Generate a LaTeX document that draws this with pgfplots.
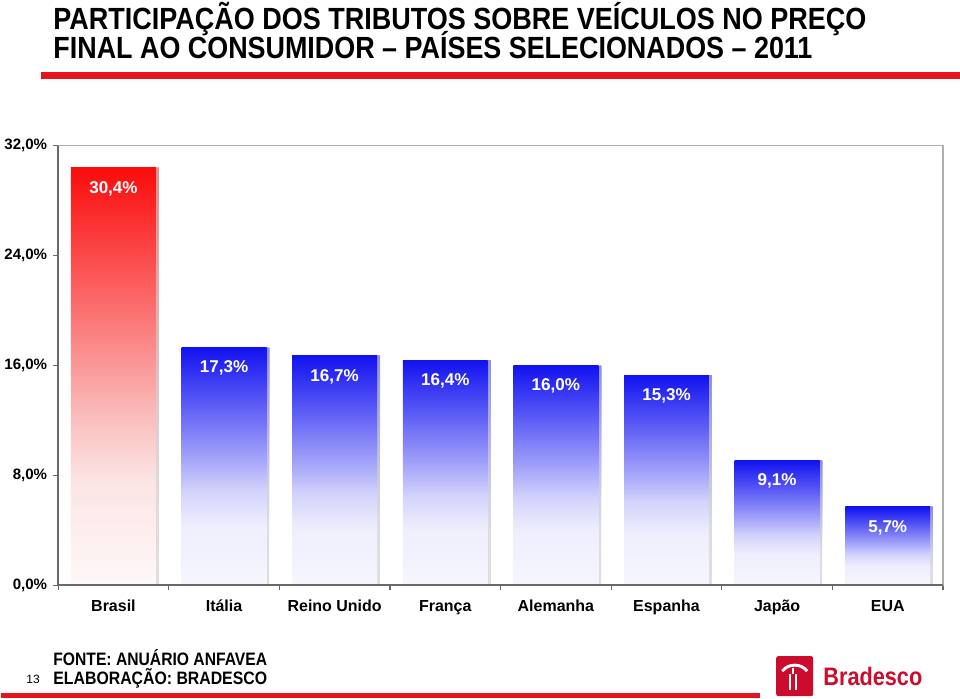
\documentclass[border=0pt]{standalone}
\usepackage{pgfplots}
\pgfplotsset{compat=1.18}
\usepackage{fontspec}
\setmainfont{Liberation Sans}
\usetikzlibrary{shadows}
\definecolor{bred}{RGB}{230,20,30}
\definecolor{logored}{RGB}{204,12,45}
\definecolor{axdark}{RGB}{105,105,105}
\definecolor{axlight}{RGB}{175,175,175}
\definecolor{ra}{RGB}{254,248,248}
\definecolor{rb}{RGB}{252,228,228}
\definecolor{rc}{RGB}{250,190,190}
\definecolor{rd}{RGB}{250,160,160}
\definecolor{re}{RGB}{252,85,85}
\definecolor{rf}{RGB}{250,12,12}
\definecolor{ba}{RGB}{246,246,255}
\definecolor{bb}{RGB}{238,238,253}
\definecolor{bc}{RGB}{210,210,252}
\definecolor{bd}{RGB}{175,175,250}
\definecolor{be}{RGB}{95,95,246}
\definecolor{bf}{RGB}{18,18,240}
\pgfdeclareverticalshading{redshade}{100bp}{color(0bp)=(ra); color(25bp)=(ra); color(37.5bp)=(rb); color(45bp)=(rc); color(50bp)=(rd); color(62.5bp)=(re); color(75bp)=(rf); color(100bp)=(rf)}
\pgfdeclareverticalshading{blueshade}{100bp}{color(0bp)=(ba); color(25bp)=(ba); color(37.5bp)=(bb); color(45bp)=(bc); color(50bp)=(bd); color(62.5bp)=(be); color(75bp)=(bf); color(100bp)=(bf)}
\begin{document}
\begin{tikzpicture}
\begin{scope}[x=0.75pt,y=0.75pt]
\path[use as bounding box] (0,0) rectangle (960,699);
% title
\node[anchor=base west, inner sep=0] at (52,699-29.5) {\resizebox{610.5pt}{\height}{\fontsize{23}{25}\selectfont\bfseries PARTICIPAÇÃO DOS TRIBUTOS SOBRE VEÍCULOS NO PREÇO}};
\node[anchor=base west, inner sep=0] at (52,699-58.5) {\resizebox{570pt}{\height}{\fontsize{23}{25}\selectfont\bfseries FINAL AO CONSUMIDOR – PAÍSES SELECIONADOS – 2011}};
\fill[bred] (40,699-79) rectangle (960,699-72);
% footer
\node[anchor=base west, inner sep=0] at (52,699-666) {\resizebox{160.5pt}{\height}{\fontsize{13.5}{15}\selectfont\bfseries FONTE: ANUÁRIO ANFAVEA}};
\node[anchor=base west, inner sep=0] at (52,699-685) {\resizebox{160.5pt}{\height}{\fontsize{13.5}{15}\selectfont\bfseries ELABORAÇÃO: BRADESCO}};
\node[anchor=base west, inner sep=0] at (25,699-684) {\fontsize{9}{10}\selectfont 13};
\fill[bred] (0,0) rectangle (760,5);
% logo
\fill[logored, rounded corners=1.5pt] (776,2) rectangle (813,42);
\draw[white, line width=2.2pt] (782,27) .. controls (788,35) and (801,35) .. (807,27);
\draw[white, line width=1.8pt] (790,8) -- (790,24) (796,8) -- (796,24);
\draw[white, line width=1.8pt] (793,24) -- (793,30);
\node[anchor=base west, inner sep=0, text=logored] at (823,699-686) {\resizebox{74.25pt}{\height}{\fontsize{19}{21}\selectfont\bfseries Bradesco}};
\end{scope}
\begin{axis}[
  at={(42.75pt,84.75pt)}, anchor=south west,
  width=664.5pt, height=330pt, scale only axis,
  ybar, bar width=63.75pt,
  every axis plot/.append style={bar shift=0pt},
  xmin=-0.5, xmax=7.5, ymin=0, ymax=32,
  clip=false,
  axis line style={draw=axlight, line width=0.8pt},
  tick align=outside, xtick pos=bottom, ytick pos=left,
  major tick length=3.75pt,
  tick style={draw=axdark, line width=0.9pt},
  xtick={-0.5,0.5,...,7.5}, xticklabels={},
  extra x ticks={0,1,2,3,4,5,6,7},
  extra x tick labels={Brasil,Itália,Reino Unido,França,Alemanha,Espanha,Japão,EUA},
  extra x tick style={major tick length=0pt, xticklabel style={yshift=-8pt}},
  xticklabel style={font=\fontsize{12}{14}\selectfont\bfseries, text height=1.6ex, text depth=0.3ex},
  ytick={0,8,16,24,32},
  yticklabel={\pgfmathprintnumber[fixed,fixed zerofill,precision=1,use comma,assume math mode=true]{\tick}\%},
  yticklabel style={font=\fontsize{11.3}{13}\selectfont\bfseries, xshift=-1pt},
  point meta=y,
  nodes near coords={\pgfmathprintnumber[fixed,fixed zerofill,precision=1,use comma,assume math mode=true]{\pgfplotspointmeta}\%},
  every node near coord/.append style={anchor=north, yshift=-6.5pt, text=white, font=\fontsize{12.8}{14}\selectfont\bfseries},
  barsh/.style={draw=none, shade, shading=#1,
     drop shadow={shadow xshift=2.2pt, shadow yshift=0pt, opacity=0.35}},
]
\addplot[barsh=redshade] coordinates {(0,30.4)};
\addplot[barsh=blueshade] coordinates {(1,17.3)};
\addplot[barsh=blueshade] coordinates {(2,16.7)};
\addplot[barsh=blueshade] coordinates {(3,16.4)};
\addplot[barsh=blueshade] coordinates {(4,16.0)};
\addplot[barsh=blueshade] coordinates {(5,15.3)};
\addplot[barsh=blueshade] coordinates {(6,9.1)};
\addplot[barsh=blueshade] coordinates {(7,5.7)};
\draw[axdark, line width=1.3pt] (rel axis cs:0,1) -- (rel axis cs:0,0) -- (rel axis cs:1,0);
\end{axis}
\end{tikzpicture}
\end{document}
